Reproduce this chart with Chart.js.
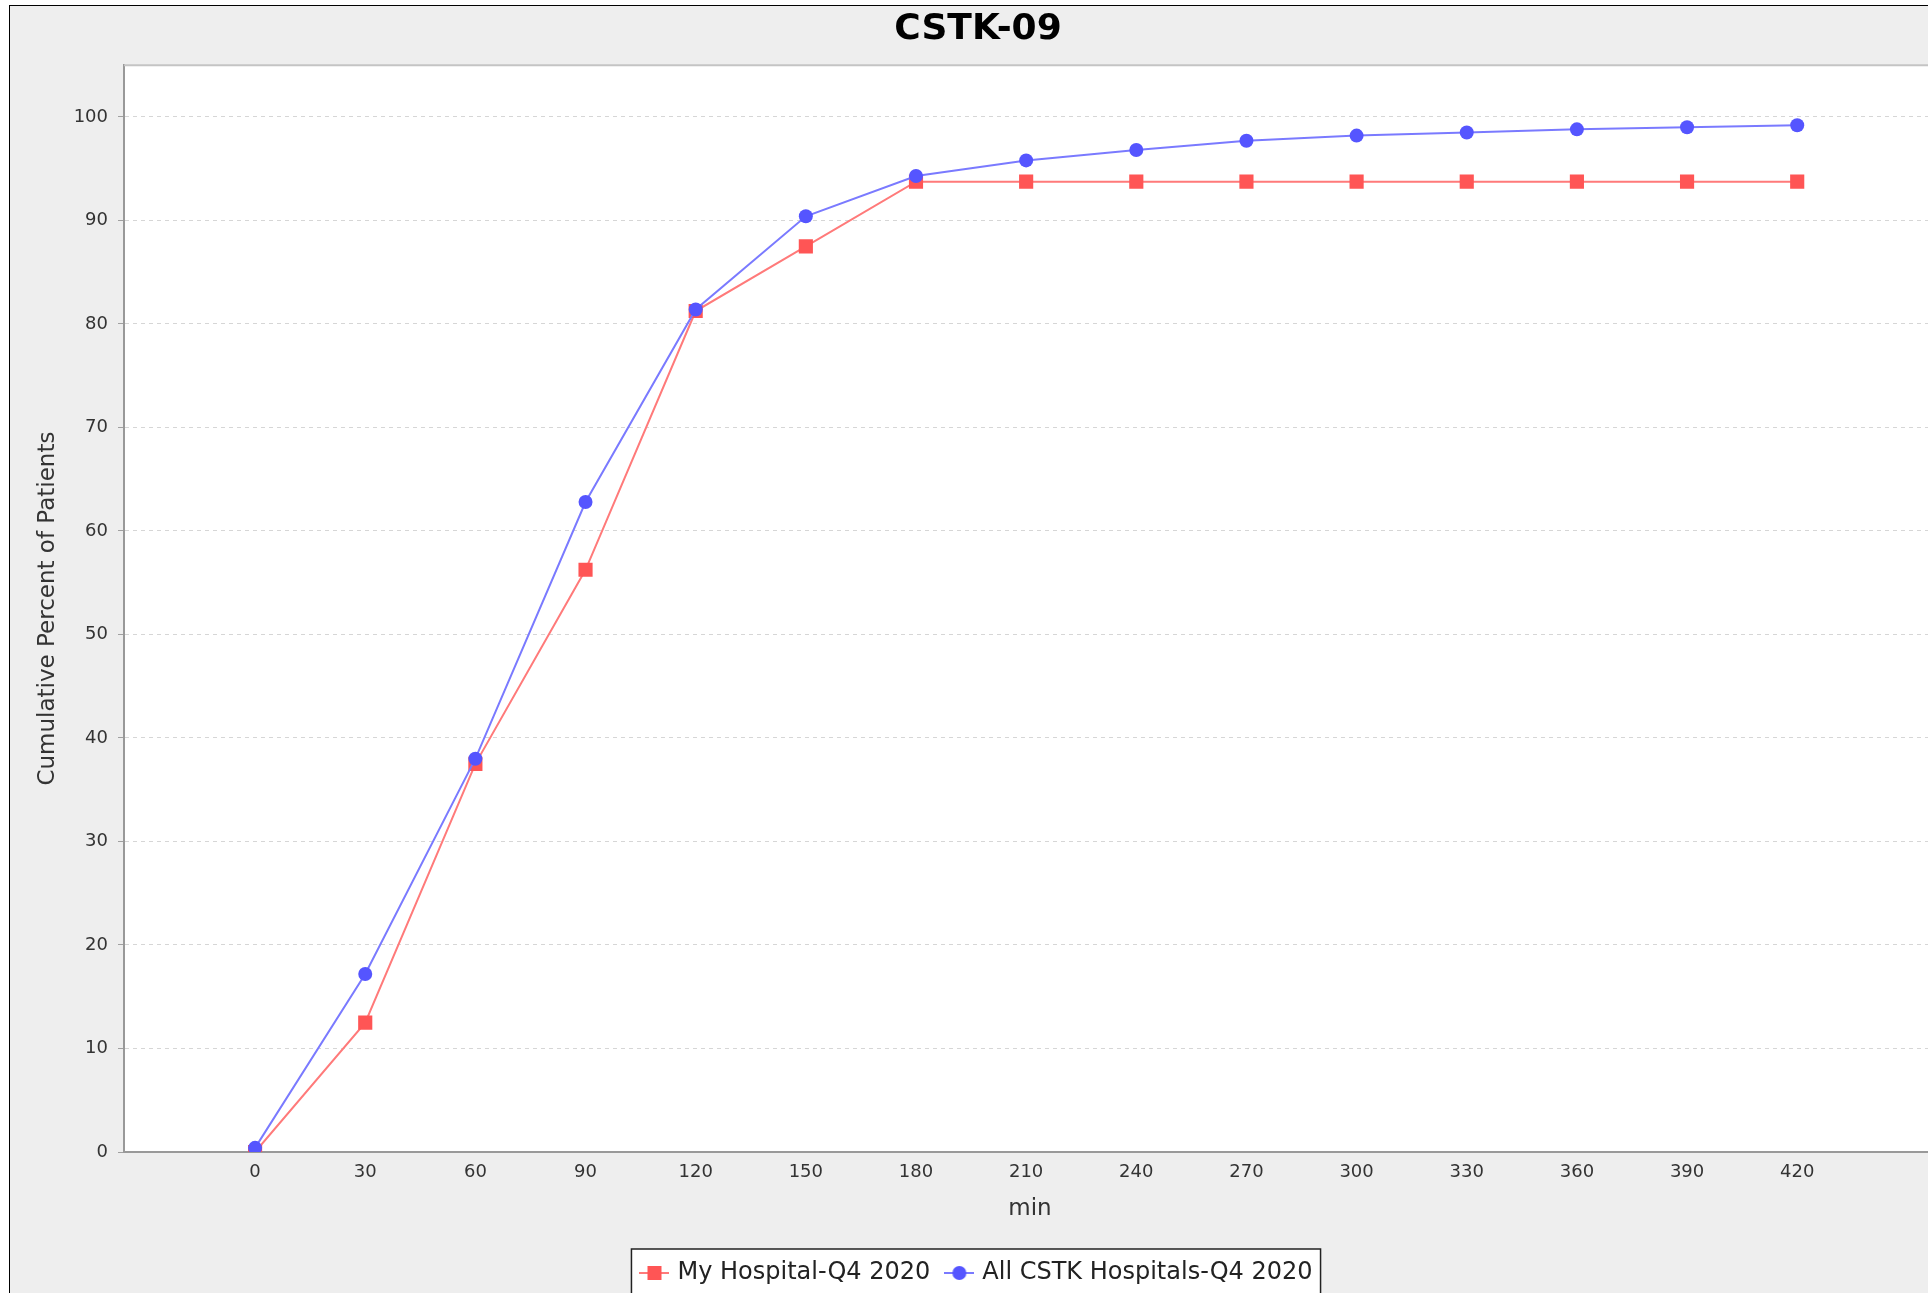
<!DOCTYPE html>
<html>
<head>
<meta charset="utf-8">
<title>CSTK-09</title>
<script src="https://cdn.jsdelivr.net/npm/chart.js@4.4.1/dist/chart.umd.min.js"></script>
<style>
    html, body { margin: 0; padding: 0; background: #fff; overflow: hidden; }
    #frame { position: absolute; left: 9px; top: 5px; border-left: 1px solid #000; border-top: 1px solid #000; background: #eeeeee; }
    canvas { display: block; }
</style>
</head>
<body>
<div id="frame"><canvas id="cstk-chart" width="1936" height="1289"></canvas></div>
<script>
// time since arrival, minutes
const minutes = [0, 30, 60, 90, 120, 150, 180, 210, 240, 270, 300, 330, 360, 390, 420];
const myHospital = [0, 12.5, 37.5, 56.25, 81.25, 87.5, 93.75, 93.75, 93.75, 93.75, 93.75, 93.75, 93.75, 93.75, 93.75];
const allHospitals = [0.4, 17.2, 38.0, 62.8, 81.4, 90.4, 94.3, 95.8, 96.8, 97.7, 98.2, 98.5, 98.8, 99.0, 99.2];
const yTicks = [0, 10, 20, 30, 40, 50, 60, 70, 80, 90, 100];
const seriesNames = ['My Hospital-Q4 2020', 'All CSTK Hospitals-Q4 2020'];

const FONT = '"DejaVu Sans", "Noto Sans", sans-serif';
const LEGEND_PAD = 18;

function legendIcon(lineColor, fill, shape) {
    const c = document.createElement('canvas');
    c.width = 30; c.height = 16;
    const g = c.getContext('2d');
    g.strokeStyle = lineColor; g.lineWidth = 2;
    g.beginPath(); g.moveTo(0, 8); g.lineTo(30, 8); g.stroke();
    g.fillStyle = fill;
    if (shape === 'rect') {
        g.fillRect(8, 1, 14, 14);
    } else {
        g.beginPath(); g.arc(15, 8, 7, 0, Math.PI * 2); g.fill();
    }
    return c;
}
const legendIcons = [
    legendIcon('#ff7a7a', '#ff5555', 'rect'),
    legendIcon('#7a7aff', '#5555ff', 'circle')
];

// plot background, outline and the boxed legend
const framePlugin = {
    id: 'frame',
    beforeDraw(chart) {
        const { ctx, chartArea: a } = chart;
        ctx.save();
        ctx.fillStyle = '#eeeeee';
        ctx.fillRect(0, 0, chart.width, chart.height);
        ctx.fillStyle = '#ffffff';
        ctx.fillRect(a.left, a.top, a.right - a.left, a.bottom - a.top);

        const hb = chart.legend.legendHitBoxes;
        if (hb && hb.length) {
            const last = hb[hb.length - 1];
            const l = hb[0].left - 12, r = last.left + last.width + 8;
            const t = chart.legend.top + LEGEND_PAD - 12;
            ctx.fillStyle = '#ffffff';
            ctx.fillRect(l, t, r - l, chart.height);
            ctx.strokeStyle = '#222';
            ctx.lineWidth = 1.5;
            ctx.strokeRect(l, t, r - l, chart.height + 10);
        }
        ctx.restore();
    },
    beforeDatasetsDraw(chart) {
        const { ctx, chartArea: a } = chart;
        ctx.save();
        ctx.strokeStyle = '#c4c4c4';
        ctx.lineWidth = 2;
        ctx.beginPath(); ctx.moveTo(a.left, a.top); ctx.lineTo(a.right, a.top); ctx.stroke();
        ctx.restore();
    }
};

const ctx = document.getElementById('cstk-chart').getContext('2d');
window.cstkChart = new Chart(ctx, {
    type: 'line',
    data: {
        datasets: [
            {
                label: seriesNames[0],
                data: minutes.map((m, i) => ({ x: m, y: myHospital[i] })),
                borderColor: '#ff7a7a',
                backgroundColor: '#ff5555',
                borderWidth: 2,
                pointStyle: 'rect',
                pointRadius: 10,
                pointBorderWidth: 0,
                pointBackgroundColor: '#ff5555',
                tension: 0,
                order: 1
            },
            {
                label: seriesNames[1],
                data: minutes.map((m, i) => ({ x: m, y: allHospitals[i] })),
                borderColor: '#7a7aff',
                backgroundColor: '#5555ff',
                borderWidth: 2,
                pointStyle: 'circle',
                pointRadius: 7,
                pointBorderWidth: 0,
                pointBackgroundColor: '#5555ff',
                tension: 0,
                order: 0
            }
        ]
    },
    options: {
        responsive: false,
        animation: false,
        events: [],
        layout: { padding: 0 },
        scales: {
            x: {
                type: 'linear',
                min: -35.7,
                max: 457.8,
                afterBuildTicks: (scale) => { scale.ticks = minutes.map(v => ({ value: v })); },
                afterFit: (scale) => { scale.height = 109 - LEGEND_PAD; },
                grid: { display: false, drawTicks: false },
                border: { display: true, color: '#999999', width: 2 },
                ticks: { color: '#333', padding: 10, maxRotation: 0, autoSkip: false, font: { family: FONT, size: 18 } },
                title: { display: true, text: 'min', color: '#333', font: { family: FONT, size: 23 }, padding: { top: 0, bottom: 38 - LEGEND_PAD } }
            },
            y: {
                min: 0,
                max: 105,
                afterBuildTicks: (scale) => { scale.ticks = yTicks.map(v => ({ value: v })); },
                afterFit: (scale) => { scale.width = 114; },
                grid: { color: '#d6d6d6', lineWidth: 1, tickLength: 6, tickColor: '#a0a0a0', tickBorderDash: [], drawTicks: true },
                border: { display: true, color: '#999999', width: 2, dash: [4, 4] },
                ticks: { color: '#333', padding: 10, font: { family: FONT, size: 18 } },
                title: { display: true, text: 'Cumulative Percent of Patients', color: '#333', font: { family: FONT, size: 23 }, padding: { top: 24, bottom: 0 } }
            }
        },
        plugins: {
            title: {
                display: true,
                text: 'CSTK-09',
                color: '#000',
                font: { family: FONT, size: 36, weight: 'bold' },
                padding: { top: 2, bottom: 14 }
            },
            legend: {
                position: 'bottom',
                labels: {
                    color: '#222',
                    font: { family: FONT, size: 24 },
                    padding: LEGEND_PAD,
                    usePointStyle: true,
                    pointStyleWidth: 22,
                    sort: (a, b) => a.datasetIndex - b.datasetIndex,
                    generateLabels(chart) {
                        const items = Chart.defaults.plugins.legend.labels.generateLabels(chart);
                        items.forEach(it => { it.pointStyle = legendIcons[it.datasetIndex]; });
                        return items;
                    }
                }
            },
            tooltip: { enabled: false }
        }
    },
    plugins: [framePlugin]
});
</script>
</body>
</html>
